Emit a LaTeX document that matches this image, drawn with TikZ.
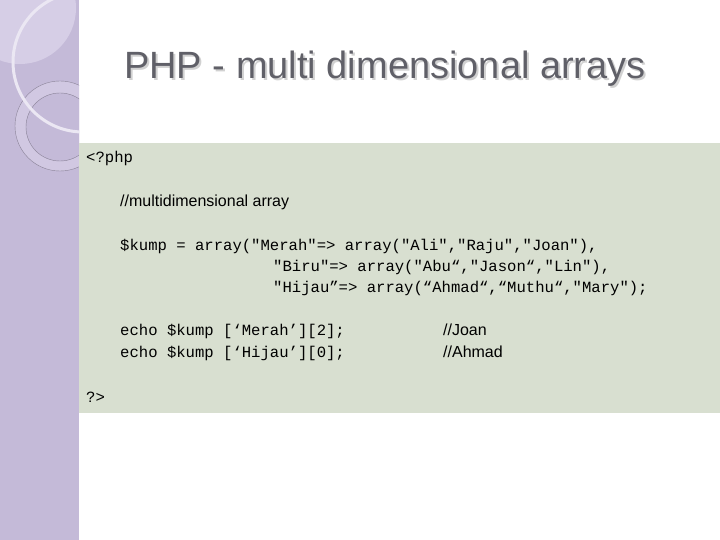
\documentclass[tikz,border=0pt]{standalone}
\usepackage{fontspec}
\setmainfont{Liberation Sans}
\setmonofont{Liberation Mono}
\definecolor{stripcol}{RGB}{196,186,216}
\definecolor{lightcol}{RGB}{214,206,230}
\definecolor{boxcol}{RGB}{216,223,208}
\definecolor{titlecol}{RGB}{96,96,104}
\tikzset{
  code/.style={anchor=west, inner sep=0pt, font=\ttfamily\fontsize{15.6}{18}\selectfont},
  note/.style={anchor=west, inner sep=0pt, font=\fontsize{16}{19}\selectfont}
}
\begin{document}
\begin{tikzpicture}[x=1pt,y=-1pt]
\useasboundingbox (0,0) rectangle (720,540);
% side strip
\fill[stripcol] (0,0) rectangle (79,540);
\begin{scope}
\clip (0,0) rectangle (79,540);
\fill[lightcol] (20,8) circle (56);
\fill[lightcol!70!stripcol] (60,126) circle (45);
\fill[stripcol] (60,127) circle (34);
\draw[stripcol!70!black, line width=0.4pt] (60,126) circle (45);
\draw[stripcol!70!black, line width=0.4pt] (60,127) circle (34);
\draw[lightcol!50!white, line width=3pt] (83,62) circle (70);
\end{scope}
% title
\node[font=\fontsize{38}{44}\selectfont, text=black!18] (shadow) at (387,71) {PHP - multi dimensional arrays};
\node[font=\fontsize{38}{44}\selectfont, text=titlecol] (title) at (385,69) {PHP - multi dimensional arrays};
% code box
\fill[boxcol] (79,143) rectangle (720,413);
\node[code] (open) at (86,158) {<?php};
\node[note] (cmt) at (120,202) {//multidimensional array};
\node[code] (l1) at (120,246) {\$kump = array("Merah"=> array("Ali","Raju","Joan"),};
\node[code] (l2) at (273,267) {"Biru"=> array("Abu“,"Jason“,"Lin"),};
\node[code] (l3) at (273,288) {"Hijau”=> array(“Ahmad“,“Muthu“,"Mary");};
\node[code] (e1) at (120,331) {echo \$kump [‘Merah’][2];};
\node[code] (e2) at (120,353) {echo \$kump [‘Hijau’][0];};
\node[note] (r1) at (443,330) {//Joan};
\node[note] (r2) at (443,352) {//Ahmad};
\node[code] (close) at (86,397) {?>};
\end{tikzpicture}
\end{document}
